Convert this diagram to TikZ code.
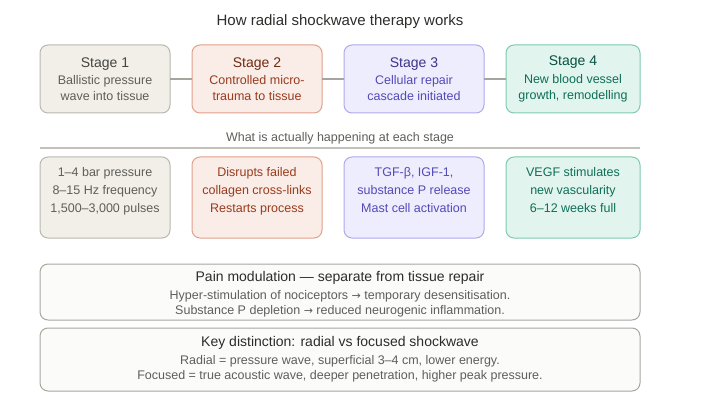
\documentclass[tikz,border=0pt]{standalone}
\usepackage{fontspec}
\setmainfont{Liberation Sans}
\newfontfamily\symfont{DejaVu Sans}
\usepackage{xcolor}
\usetikzlibrary{positioning}
\definecolor{inkc}{HTML}{2C2C2A}
\definecolor{mutedc}{HTML}{5F5E5A}
\definecolor{rulec}{HTML}{C3C1BA}
\definecolor{linkc}{HTML}{A5A49E}
\definecolor{stonefill}{HTML}{F1EFE8}
\definecolor{stoneline}{HTML}{B9B7AF}
\definecolor{stonehead}{HTML}{444441}
\definecolor{stonetext}{HTML}{5F5E5A}
\definecolor{coralfill}{HTML}{FAECE7}
\definecolor{coralline}{HTML}{E3A08A}
\definecolor{coralhead}{HTML}{712B13}
\definecolor{coraltext}{HTML}{993C1D}
\definecolor{irisfill}{HTML}{EEEDFE}
\definecolor{irisline}{HTML}{AFA9EC}
\definecolor{irishead}{HTML}{3C3489}
\definecolor{iristext}{HTML}{534AB7}
\definecolor{tealfill}{HTML}{E1F5EE}
\definecolor{tealline}{HTML}{7CCBAE}
\definecolor{tealhead}{HTML}{085041}
\definecolor{tealtext}{HTML}{0F6E56}
\definecolor{notefill}{HTML}{FBFBF9}
\definecolor{noteline}{HTML}{A8A7A1}
\newcommand{\hd}[2]{{\fontsize{14}{17}\selectfont\color{#1}#2}}
\newcommand{\ar}{{\symfont\fontsize{11}{14}\selectfont →}}

\begin{document}
\begin{tikzpicture}[
  box/.style={draw,rounded corners=8pt,line width=1pt,align=center,inner sep=0pt,
              outer sep=0pt},
  stage/.style={box,minimum height=68pt,font=\fontsize{12.5}{16}\selectfont},
  detail/.style={box,minimum height=81pt,text height=55.5pt,text depth=25.5pt,
                 font=\fontsize{12.5}{18}\selectfont},
  stone/.style={fill=stonefill,draw=stoneline,text=stonetext},
  coral/.style={fill=coralfill,draw=coralline,text=coraltext},
  iris/.style={fill=irisfill,draw=irisline,text=iristext},
  teal/.style={fill=tealfill,draw=tealline,text=tealtext},
  note/.style={box,minimum width=600pt,fill=notefill,draw=noteline,text=mutedc,
               font=\fontsize{12.5}{15.5}\selectfont},
  link/.style={linkc,line width=1.5pt},
]
\useasboundingbox (0,0) rectangle (714pt,-406pt);
\node[font=\fontsize{15}{18}\selectfont,text=inkc] (title) at (340pt,-22pt)
  {How radial shockwave therapy works};

% the four stages
\node[stage,stone,minimum width=130pt] (s1) at (105pt,-79pt)
  {\hd{stonehead}{Stage 1}\\[1.5pt] Ballistic pressure\\ wave into tissue};
\node[stage,coral,minimum width=130pt,right=22pt of s1] (s2)
  {\hd{coralhead}{Stage 2}\\[1.5pt] Controlled micro-\\ trauma to tissue};
\node[stage,iris,minimum width=140pt,right=22pt of s2] (s3)
  {\hd{irishead}{Stage 3}\\[1.5pt] Cellular repair\\ cascade initiated};
\node[stage,teal,minimum width=134pt,right=22pt of s3] (s4)
  {\hd{tealhead}{Stage 4}\\[1.5pt] New blood vessel\\ growth, remodelling};
\draw[link] (s1) -- (s2);
\draw[link] (s2) -- (s3);
\draw[link] (s3) -- (s4);

% what happens underneath
\node[text=mutedc,font=\fontsize{12.5}{15}\selectfont] (sub) at (340pt,-138pt)
  {What is actually happening at each stage};
\coordinate (rl) at (40pt,-148pt);
\coordinate (rr) at (640pt,-148pt);
\draw[rulec,line width=1.5pt] (rl) -- (rr);

\node[detail,stone,minimum width=130pt,below=44pt of s1] (d1)
  {1–4 bar pressure\\ 8–15 Hz frequency\\ 1,500–3,000 pulses};
\node[detail,coral,minimum width=130pt,below=44pt of s2] (d2)
  {Disrupts failed\\ collagen cross-links\\ Restarts process};
\node[detail,iris,minimum width=140pt,below=44pt of s3] (d3)
  {TGF-β, IGF-1,\\ substance P release\\ Mast cell activation};
\node[detail,teal,minimum width=134pt,below=44pt of s4] (d4)
  {VEGF stimulates\\ new vascularity\\ 6–12 weeks full};

% notes
\node[note,minimum height=56pt,text height=50.5pt,text depth=5.5pt] (pain) at (340pt,-292pt)
  {\hd{inkc}{Pain modulation — separate from tissue repair}\\[2pt]
   Hyper-stimulation of nociceptors \ar{} temporary desensitisation.\\
   Substance P depletion \ar{} reduced neurogenic inflammation.};
\node[note,minimum height=63pt,below=8pt of pain] (key)
  {\hd{inkc}{Key distinction: radial vs focused shockwave}\\[2pt]
   Radial = pressure wave, superficial 3–4 cm, lower energy.\\
   Focused = true acoustic wave, deeper penetration, higher peak pressure.};
\end{tikzpicture}
\end{document}
